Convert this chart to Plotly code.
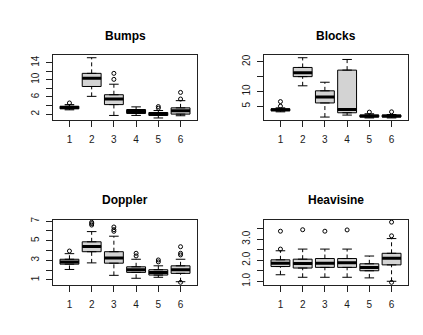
import plotly.graph_objects as go

# box positions
pos = [1, 2, 3, 4, 5, 6]

# Bumps
bumps_lo = [3.0, 6.14, 1.69, 1.69, 1.1, 1.62]
bumps_q1 = [3.23, 8.44, 4.22, 2.15, 1.69, 2.0]
bumps_med = [3.53, 10.35, 5.52, 2.61, 2.0, 2.77]
bumps_q3 = [3.84, 11.5, 6.52, 3.07, 2.38, 3.46]
bumps_hi = [4.22, 15.14, 8.97, 3.69, 2.84, 5.14]
bumps_out_x = [1, 3, 3, 5, 5, 6, 6]
bumps_out_y = [4.6, 10.1, 11.5, 3.38, 3.76, 5.52, 7.06]

# Blocks
blocks_lo = [3.1, 11.9, 1.33, 2.0, 1.03, 1.03]
blocks_q1 = [3.44, 15.0, 6.1, 2.78, 1.33, 1.33]
blocks_med = [3.78, 16.33, 8.1, 3.9, 1.67, 1.67]
blocks_q3 = [4.11, 18.1, 10.2, 17.2, 2.0, 2.0]
blocks_hi = [4.44, 21.39, 13.1, 20.8, 2.44, 2.2]
blocks_out_x = [1, 1, 5, 6]
blocks_out_y = [5.0, 6.56, 3.0, 3.1]

# Doppler
doppler_lo = [2.07, 2.74, 1.47, 1.17, 1.27, 0.82]
doppler_q1 = [2.61, 3.88, 2.71, 1.77, 1.5, 1.67]
doppler_med = [2.84, 4.42, 3.25, 2.04, 1.77, 2.04]
doppler_q3 = [3.11, 4.89, 3.88, 2.34, 2.04, 2.44]
doppler_hi = [3.68, 5.93, 5.46, 3.11, 2.44, 3.11]
doppler_out_x = [1, 2, 2, 2, 3, 3, 3, 4, 4, 5, 5, 6, 6, 6, 6]
doppler_out_y = [3.95, 6.88, 6.75, 6.6, 6.4, 6.13, 5.96, 3.72, 3.45, 3.04, 2.84, 4.39, 3.72, 3.55, 0.75]

# Heavisine
heavi_lo = [1.31, 1.19, 1.19, 1.19, 1.16, 1.0]
heavi_q1 = [1.70, 1.63, 1.66, 1.66, 1.5, 1.78]
heavi_med = [1.86, 1.84, 1.86, 1.88, 1.66, 2.09]
heavi_q3 = [2.02, 2.05, 2.08, 2.08, 1.83, 2.33]
heavi_hi = [2.45, 2.53, 2.53, 2.53, 2.2, 3.03]
heavi_out_x = [1, 1, 2, 3, 4, 6, 6, 6]
heavi_out_y = [3.38, 2.53, 3.45, 3.38, 3.44, 3.81, 3.16, 0.945]

titles = ["Bumps", "Blocks", "Doppler", "Heavisine"]
panels = [
    (bumps_lo, bumps_q1, bumps_med, bumps_q3, bumps_hi, bumps_out_x, bumps_out_y),
    (blocks_lo, blocks_q1, blocks_med, blocks_q3, blocks_hi, blocks_out_x, blocks_out_y),
    (doppler_lo, doppler_q1, doppler_med, doppler_q3, doppler_hi, doppler_out_x, doppler_out_y),
    (heavi_lo, heavi_q1, heavi_med, heavi_q3, heavi_hi, heavi_out_x, heavi_out_y),
]

# y axis ticks (R draws all ticks but drops overlapping labels)
ytick_vals = [
    [2, 4, 6, 8, 10, 12, 14],
    [5, 10, 15, 20],
    [1, 2, 3, 4, 5, 6, 7],
    [1.0, 1.5, 2.0, 2.5, 3.0, 3.5],
]
ytick_text = [
    ["2", "", "6", "", "10", "", "14"],
    ["5", "10", "", "20"],
    ["1", "", "3", "", "5", "", "7"],
    ["1.0", "", "2.0", "", "3.0", ""],
]
yranges = [[0.55, 15.7], [0.22, 22.2], [0.5, 7.13], [0.83, 3.92]]

W, H = 423, 335
xdom = [[45 / W, 189 / W], [256 / W, 400 / W]]
ydom = [[1 - 111 / H, 1 - 45 / H], [1 - 278 / H, 1 - 212 / H]]

BOXW = 0.85
CAPW = 0.43
fig = go.Figure()
font = "Liberation Sans, Arial, sans-serif"

for i, (lo, q1, med, q3, hi, ox, oy) in enumerate(panels):
    n = "" if i == 0 else str(i + 1)
    xa, ya = "x" + n, "y" + n

    # whiskers (dashed)
    wx, wy = [], []
    for p, a, b, c, d in zip(pos, lo, q1, q3, hi):
        wx += [p, p, None, p, p, None]
        wy += [a, b, None, c, d, None]
    fig.add_trace(go.Scatter(x=wx, y=wy, mode="lines", xaxis=xa, yaxis=ya,
                             line=dict(color="black", width=1, dash="4px,3px"),
                             hoverinfo="skip", showlegend=False))
    # staples
    sx, sy = [], []
    for p, a, d in zip(pos, lo, hi):
        sx += [p - CAPW / 2, p + CAPW / 2, None, p - CAPW / 2, p + CAPW / 2, None]
        sy += [a, a, None, d, d, None]
    fig.add_trace(go.Scatter(x=sx, y=sy, mode="lines", xaxis=xa, yaxis=ya,
                             line=dict(color="black", width=1),
                             hoverinfo="skip", showlegend=False))
    # boxes
    fig.add_trace(go.Box(x=pos, q1=q1, median=med, q3=q3, lowerfence=q1, upperfence=q3,
                         width=BOXW, fillcolor="#D3D3D3", line=dict(color="black", width=1),
                         boxpoints=False, xaxis=xa, yaxis=ya, showlegend=False))
    # thick medians
    mx, my = [], []
    for p, m in zip(pos, med):
        mx += [p - BOXW / 2, p + BOXW / 2, None]
        my += [m, m, None]
    fig.add_trace(go.Scatter(x=mx, y=my, mode="lines", xaxis=xa, yaxis=ya,
                             line=dict(color="black", width=3),
                             hoverinfo="skip", showlegend=False))
    # outliers
    fig.add_trace(go.Scatter(x=ox, y=oy, mode="markers", xaxis=xa, yaxis=ya,
                             marker=dict(symbol="circle-open", size=4, color="black",
                                         line=dict(width=1)),
                             showlegend=False))

    r, c = divmod(i, 2)
    axis_common = dict(showline=True, mirror=True, linecolor="#222", linewidth=1,
                       ticks="outside", ticklen=6, tickcolor="#222", showgrid=False,
                       zeroline=False, tickfont=dict(family=font, size=10, color="#1a1a1a"))
    fig.update_layout(**{
        "xaxis" + n: dict(domain=xdom[c], anchor=ya, range=[0.26, 6.74],
                          tickvals=pos, ticktext=[str(p) for p in pos],
                          ticklabelstandoff=4, **axis_common),
        "yaxis" + n: dict(domain=ydom[r], anchor=xa, range=yranges[i],
                          tickvals=ytick_vals[i], ticktext=ytick_text[i],
                          tickangle=-90, ticklabelstandoff=3, **axis_common),
    })
    fig.add_annotation(text="<b>" + titles[i] + "</b>", xref="paper", yref="paper",
                       x=sum(xdom[c]) / 2, y=[1 - 25 / H, 1 - 192 / H][r],
                       xanchor="center", yanchor="middle", showarrow=False,
                       font=dict(family=font, size=12, color="black"))

fig.update_layout(width=W, height=H, autosize=False,
                  margin=dict(l=0, r=0, t=0, b=0),
                  paper_bgcolor="white", plot_bgcolor="white")

fig.write_html("out.html")
